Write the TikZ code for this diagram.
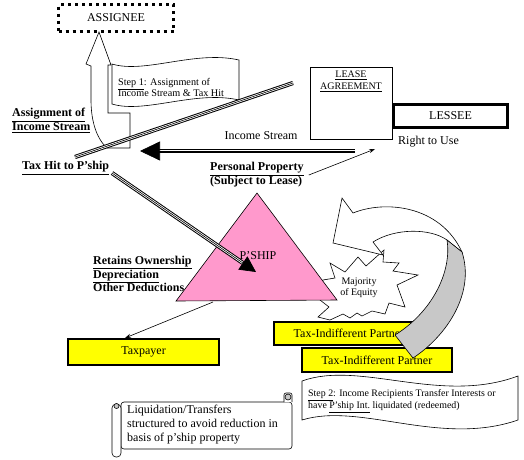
\documentclass[tikz,border=0pt]{standalone}
\usepackage{fontspec}
\setmainfont{Liberation Serif}
\usetikzlibrary{arrows.meta,calc,positioning}
\definecolor{shippink}{HTML}{FF99CC}
\definecolor{boxyellow}{HTML}{FFFF00}
\definecolor{bandgray}{HTML}{C8C8C8}
\begin{document}
\begin{tikzpicture}[x=1pt,y=-1pt,
    every node/.style={inner sep=0pt, font=\fontsize{12}{14}\selectfont},
    ybox/.style={draw, fill=boxyellow, line width=2pt, minimum width=150, minimum height=23},
    blbl/.style={font=\fontsize{12}{14}\selectfont\bfseries, align=left, anchor=west},
    smalltxt/.style={font=\fontsize{10.2}{11.5}\selectfont, align=left, anchor=west},
    triple/.style={draw=white, line width=2.2pt, preaction={draw=black, line width=4.2pt}, postaction={draw=black, line width=0.6pt}},
    thinarrow/.style={draw, line width=0.6pt, -{Stealth[length=6pt,width=4pt]}}]
    \useasboundingbox (0,0) rectangle (524,459);

    % assignment arrow and flag
    \draw[fill=white, line width=0.6pt] (99,32) -- (111,65) -- (108,65) -- (108,113) -- (130,113) -- (130,148) -- (107,148) .. controls (96,138) and (91,120) .. (91,100) -- (91,66) -- (86,64) -- cycle;
    \draw[fill=white, line width=0.6pt] (112,64) .. controls (145,74) and (195,50) .. (239,60) -- (239,100) .. controls (195,90) and (145,114) .. (112,104) -- cycle;
    \node[smalltxt] (step1) at (118,87.5) {\underline{Step 1}: Assignment of\\Income Stream \& Tax Hit};
    \coordinate (railA) at (75,157);
    \coordinate (railB) at (293,83);
    \draw[triple] (railA) -- (railB);
    \node[draw, line width=3pt, dash pattern=on 3pt off 4pt, minimum width=115, minimum height=27] (assignee) at (116,18) {ASSIGNEE};

    \node[blbl] (assign) at (12,120.5) {\underline{Assignment of}\\\underline{Income Stream}};
    \node[blbl] (taxhit) at (22,168) {\underline{Tax Hit to P’ship}};
    \node[blbl] (pp) at (210,175) {\underline{Personal Property}\\(Subject to Lease)};
    \node[blbl, font=\fontsize{12}{13.5}\selectfont\bfseries] (retains) at (93,274) {\underline{Retains Ownership}\\\underline{Depreciation}\\Other Deductions};

    % income stream
    \node (income) at (261,136) {Income Stream};
    \coordinate (isR) at (355,151);
    \coordinate (isTip) at (140,151);
    \draw[triple] (isR) -- ($(isTip)+(19,0)$);
    \draw[line width=0.7pt, -{Triangle[length=20pt,width=19pt]}] ($(isTip)+(19,0)$) -- (isTip);

    % lease and lessee
    \node[draw, line width=0.8pt, minimum width=82, minimum height=72] (lease) at (351,103) {};
    \node[font=\fontsize{10}{12}\selectfont, align=center, below=4pt of lease.north] {\underline{LEASE}\\\underline{AGREEMENT}};
    \node[draw, line width=3pt, minimum width=114, minimum height=23] (lessee) at (450.5,116) {LESSEE};
    \node[anchor=west] (use) at (398,142) {Right to Use};
    \coordinate (lu) at (375,149);
    \draw[thinarrow] ($(pp.east)+(5,0)$) -- (lu);

    % majority of equity
    \draw[fill=white, line width=0.6pt] (384,250) -- (383,262) -- (399,263) -- (393,271) -- (418,275) -- (397,285) -- (405,307) -- (389,303) -- (385,314) -- (372,311) -- (362,316) -- (357,313) -- (350,318) -- (343,314) -- (330,320) -- (318,317) -- (329,307) -- (320,300) -- (323,280) -- (335,278) -- (330,263) -- (345,272) -- (358,257) -- (366,266) -- cycle;
    \node[font=\fontsize{10}{11}\selectfont, align=center] (equity) at (359,288) {Majority\\of Equity};
    \draw[fill=white, line width=0.6pt] (333,243) -- (342,198) -- (353,213) .. controls (385,200) and (440,205) .. (462,252) -- (447,240) .. controls (430,228) and (395,228) .. (373,242) -- (383,255) -- cycle;

    % partnership
    \draw[fill=shippink, line width=0.6pt] (176,301) -- (337,300) -- (257,193) -- cycle;
    \node (pship) at (258,256) {P’SHIP};
    \coordinate (hitA) at (112,173);
    \coordinate (hitB) at (256,272);
    \draw[triple] (hitA) -- ($(hitB)!16pt!(hitA)$);
    \draw[line width=0.7pt, -{Triangle[length=16pt,width=16pt]}] ($(hitB)!16pt!(hitA)$) -- (hitB);

    % partners
    \node[ybox] (tip1) at (349,333.5) {Tax-Indifferent Partner};
    \node[ybox, minimum height=24] (tip2) at (377,360) {Tax-Indifferent Partner};
    \draw[fill=bandgray, line width=0.6pt] (447,240) .. controls (452,272) and (432,312) .. (395,335) -- (413,358) .. controls (448,335) and (475,292) .. (462,252) -- cycle;
    \node[ybox, minimum width=151, minimum height=26] (taxpayer) at (143.5,352) {Taxpayer};
    \coordinate (base) at (213,302);
    \coordinate (tp) at (125,338);
    \draw[thinarrow] (base) -- (tp);

    % step 2
    \draw[fill=white, line width=0.6pt] (302,381) .. controls (360,360) and (440,405) .. (518,376) -- (518,420) .. controls (440,447) and (360,402) .. (302,420) -- cycle;
    \node[smalltxt, font=\fontsize{9.9}{12}\selectfont] (step2) at (308,401) {\underline{Step 2}: Income Recipients Transfer Interests or\\have \underline{P’ship Int.} liquidated (redeemed)};

    % liquidation scroll
    \draw[fill=white, line width=0.6pt, rounded corners=3pt] (121,402) -- (292,402) -- (292,449) -- (121,449) -- cycle;
    \draw[fill=white, line width=0.6pt, rounded corners=2pt] (284,402) -- (284,393) -- (292,393) -- (292,402);
    \draw[fill=bandgray, line width=0.6pt] (288,397) circle (3pt);
    \draw[fill=white, line width=0.6pt, rounded corners=4pt] (112,404) -- (121,404) -- (121,457) -- (112,457) -- cycle;
    \draw[fill=bandgray, line width=0.6pt] (116.5,406) circle (2.5pt);
    \node[anchor=west, align=left] (liquid) at (127,425) {Liquidation/Transfers\\structured to avoid reduction in\\basis of p’ship property};
\end{tikzpicture}
\end{document}
